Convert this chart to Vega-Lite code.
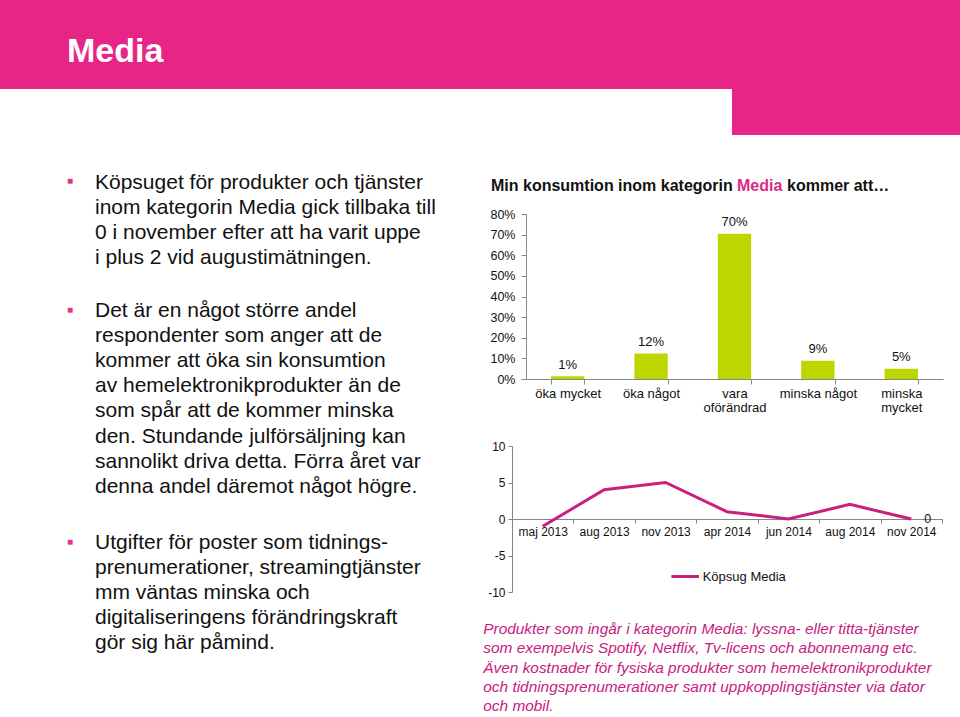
{
  "$schema": "https://vega.github.io/schema/vega-lite/v6.json",
  "padding": 0,
  "background": "white",
  "columns": 2,
  "spacing": 0,
  "bounds": "flush",
  "align": {"row": "each", "column": "none"},
  "datasets": {
    "blank": [{}],
    "svar": [
      {"svar": "öka mycket", "andel": 0.013},
      {"svar": "öka något", "andel": 0.124},
      {"svar": "vara oförändrad", "andel": 0.704},
      {"svar": "minska något", "andel": 0.089},
      {"svar": "minska mycket", "andel": 0.05}
    ],
    "kopsug": [
      {"manad": "maj 2013", "kopsug": -1, "serie": "Köpsug Media"},
      {"manad": "aug 2013", "kopsug": 4, "serie": "Köpsug Media"},
      {"manad": "nov 2013", "kopsug": 5, "serie": "Köpsug Media"},
      {"manad": "apr 2014", "kopsug": 1, "serie": "Köpsug Media"},
      {"manad": "jun 2014", "kopsug": 0, "serie": "Köpsug Media"},
      {"manad": "aug 2014", "kopsug": 2, "serie": "Köpsug Media"},
      {"manad": "nov 2014", "kopsug": 0, "serie": "Köpsug Media"}
    ]
  },
  "config": {
    "view": {"stroke": null},
    "font": "Liberation Sans",
    "title": {"orient": "top", "anchor": "start", "frame": "group", "offset": 0, "baseline": "alphabetic", "font": "Liberation Sans", "fontWeight": "normal", "color": "#111111"},
    "axis": {"labelFont": "Liberation Sans", "labelFontSize": 13, "labelColor": "#111111", "domainColor": "#868686", "tickColor": "#868686", "grid": false, "title": null}
  },
  "concat": [
    {
      "width": 512, "height": 89,
      "view": {"fill": "#E62587", "stroke": null},
      "data": {"name": "blank"}, "mark": {"type": "text", "text": ""}, "encoding": {},
      "title": {"text": "Media", "color": "#FFFFFF", "fontSize": 34, "fontWeight": "bold", "dx": 67, "dy": 73}
    },
    {
      "width": 448, "height": 89,
      "view": {"fill": "#E62587", "stroke": null},
      "data": {"name": "blank"}, "mark": {"type": "text", "text": ""}, "encoding": {},
      "title": {"text": "kommer att…", "fontSize": 16, "fontWeight": "bold", "color": "#111111", "dx": 275, "dy": 198}
    },
    {
      "width": 512, "height": 46,
      "data": {"name": "blank"}, "mark": {"type": "text", "text": ""}, "encoding": {},
      "title": {"text": "■", "fontSize": 10, "color": "#E0338A", "dx": 67, "dy": 101}
    },
    {
      "width": 448, "height": 46,
      "view": {"fill": {"gradient": "linear", "x1": 0, "y1": 0, "x2": 1, "y2": 0,
                        "stops": [{"offset": 0, "color": "#FFFFFF"}, {"offset": 0.4911, "color": "#FFFFFF"},
                                  {"offset": 0.4911, "color": "#E62587"}, {"offset": 1, "color": "#E62587"}]}, "stroke": null},
      "data": {"name": "blank"}, "mark": {"type": "text", "text": ""}, "encoding": {},
      "title": {"text": "Media", "fontSize": 16, "fontWeight": "bold", "color": "#DA2A86", "dx": 225, "dy": 109}
    },
    {
      "width": 512, "height": 79,
      "data": {"name": "blank"}, "mark": {"type": "text", "text": ""}, "encoding": {},
      "title": {"text": ["Köpsuget för produkter och tjänster", "inom kategorin Media gick tillbaka till", "0 i november efter att ha varit  uppe", "i plus 2 vid augustimätningen."], "fontSize": 21, "lineHeight": 25.2, "dx": 95, "dy": 137.4}
    },
    {
      "width": 448, "height": 79,
      "data": {"name": "blank"}, "mark": {"type": "text", "text": ""}, "encoding": {},
      "title": {"text": "Min konsumtion inom kategorin", "fontSize": 16, "fontWeight": "bold", "color": "#111111", "dx": -21, "dy": 63}
    },
    {
      "width": 512, "height": 165,
      "data": {"name": "blank"}, "mark": {"type": "text", "text": ""}, "encoding": {},
      "title": {"text": ["Det är en något större andel", "respondenter som anger att de", "kommer att öka sin konsumtion", "av hemelektronikprodukter än de", "som spår att de kommer minska", "den. Stundande julförsäljning kan", "sannolikt driva detta. Förra året var", "denna andel däremot något högre."], "fontSize": 21, "lineHeight": 25.2, "dx": 95, "dy": 287.1}
    },
    {
      "width": 431, "height": 165,
      "data": {"name": "svar"},
      "encoding": {
        "x": {
          "field": "svar", "type": "nominal", "sort": null,
          "scale": {"paddingInner": 0.6, "paddingOuter": 0.384, "align": 0.609},
          "axis": {"labelAngle": 0, "tickBand": "extent", "tickSize": 5, "labelPadding": 3, "labelLineHeight": 14.5,
                   "domainDash": [0, 14, 417, 0],
                   "labelExpr": "datum.label == 'vara oförändrad' || datum.label == 'minska mycket' ? split(datum.label, ' ') : datum.label"}
        },
        "y": {
          "field": "andel", "type": "quantitative",
          "scale": {"domain": [0, 0.8]},
          "axis": {"values": [0, 0.1, 0.2, 0.3, 0.4, 0.5, 0.6, 0.7, 0.8], "format": ".0%", "tickSize": 5, "labelPadding": 6, "offset": -14, "labelFontSize": 12.5}
        }
      },
      "layer": [
        {"mark": {"type": "bar", "color": "#BED600"}},
        {"mark": {"type": "text", "baseline": "alphabetic", "dy": -7.5, "fontSize": 13, "color": "#111111"},
         "encoding": {"text": {"field": "andel", "type": "quantitative", "format": ".0%"}}}
      ]
    },
    {
      "width": 512, "height": 67,
      "data": {"name": "blank"}, "mark": {"type": "text", "text": ""}, "encoding": {},
      "title": {"text": "■", "fontSize": 10, "color": "#E0338A", "dx": 67, "dy": -59.7}
    },
    {
      "width": 448, "height": 67,
      "data": {"name": "blank"}, "mark": {"type": "text", "text": ""}, "encoding": {},
      "title": {"text": "■", "fontSize": 10, "color": "#E0338A", "dx": -445, "dy": 172.3}
    },
    {
      "width": 512, "height": 146,
      "data": {"name": "blank"}, "mark": {"type": "text", "text": ""}, "encoding": {},
      "title": {"text": ["Utgifter för poster som tidnings-", "prenumerationer, streamingtjänster", "mm väntas minska och", "digitaliseringens förändringskraft", "gör sig här påmind."], "fontSize": 21, "lineHeight": 25.2, "dx": 95, "dy": 211.3}
    },
    {
      "width": 430, "height": 146,
      "data": {"name": "kopsug"},
      "encoding": {
        "x": {
          "field": "manad", "type": "ordinal", "sort": null,
          "scale": {"type": "band", "paddingInner": 0, "paddingOuter": 0},
          "axis": {"labelAngle": 0, "tickBand": "extent", "tickSize": 4, "labelPadding": 3, "offset": -73, "labelFontSize": 12}
        },
        "y": {
          "field": "kopsug", "type": "quantitative",
          "scale": {"domain": [-10, 10]},
          "axis": {"values": [-10, -5, 0, 5, 10], "labelExpr": "toString(datum.value)", "tickSize": 4, "labelPadding": 3, "labelFontSize": 12}
        }
      },
      "layer": [
        {
          "mark": {"type": "line", "strokeWidth": 3},
          "encoding": {
            "color": {
              "field": "serie", "type": "nominal",
              "scale": {"range": ["#C9207F"]},
              "legend": {"title": null, "orient": "none", "legendX": 669.7, "legendY": 561, "padding": 0,
                         "symbolType": "stroke", "symbolSize": 760, "symbolStrokeWidth": 3,
                         "labelFont": "Liberation Sans", "labelFontSize": 13, "labelColor": "#111111", "labelOffset": 2}
            }
          }
        },
        {
          "transform": [{"filter": "datum.manad == 'nov 2014'"}],
          "mark": {"type": "text", "align": "left", "baseline": "middle", "dx": 13, "fontSize": 12.5, "color": "#111111"},
          "encoding": {"text": {"field": "kopsug", "type": "quantitative"}}
        }
      ]
    },
    {
      "width": 512, "height": 125,
      "data": {"name": "blank"}, "mark": {"type": "text", "text": ""}, "encoding": {},
      "title": {"text": ["Produkter som ingår i kategorin Media: lyssna- eller titta-tjänster", "som exempelvis Spotify, Netflix, Tv-licens och abonnemang etc.", "Även kostnader för fysiska produkter som hemelektronikprodukter", "och tidningsprenumerationer samt uppkopplingstjänster via dator", "och mobil."], "fontSize": 15.4, "fontStyle": "italic", "color": "#C9207F", "lineHeight": 19.3, "dx": 483.3, "dy": 126.6}
    },
    {
      "width": 448, "height": 125,
      "data": {"name": "blank"}, "mark": {"type": "text", "text": ""}, "encoding": {}
    }
  ]
}
